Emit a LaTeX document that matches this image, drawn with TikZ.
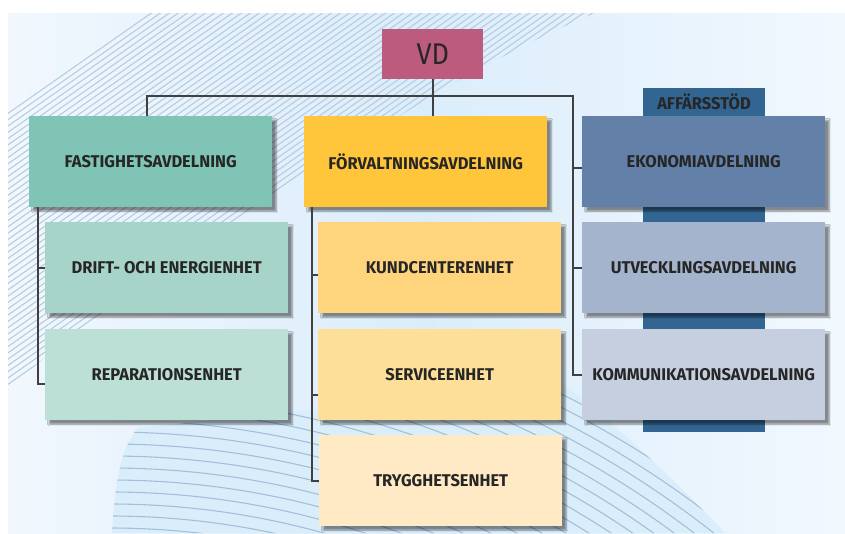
\documentclass[tikz,border=0pt]{standalone}
\usepackage{fontspec}
\newfontfamily\lblfont{Fira Sans}[FakeStretch=0.97]
\newfontfamily\vdfont{Fira Sans}[FakeStretch=0.9]
\usetikzlibrary{shadows.blur}
\definecolor{vdc}{HTML}{BD5B7E}
\definecolor{fastc}{HTML}{7FC4B4}
\definecolor{driftc}{HTML}{A6D4C8}
\definecolor{repc}{HTML}{BCDFD6}
\definecolor{forvc}{HTML}{FFC53B}
\definecolor{kundc}{HTML}{FED47C}
\definecolor{servc}{HTML}{FEDF99}
\definecolor{trygc}{HTML}{FFEAC5}
\definecolor{ekoc}{HTML}{6381A8}
\definecolor{utvc}{HTML}{A4B4CD}
\definecolor{kommc}{HTML}{C6CFDF}
\definecolor{affc}{HTML}{336592}
\definecolor{txt}{HTML}{262626}
\definecolor{linec}{HTML}{404040}
\definecolor{bgmid}{HTML}{DBEDFB}
\definecolor{bgleft}{HTML}{F1F7FD}
\definecolor{bgright}{HTML}{F2F8FE}
\definecolor{hatch}{HTML}{B8CCE0}
\definecolor{swoosh}{HTML}{A3BFD9}
\definecolor{swooshbg}{HTML}{DAEDFB}
\begin{document}
\begin{tikzpicture}[x=1pt,y=-1pt,
  box/.style={rectangle, inner sep=0pt, minimum width=243pt, minimum height=91pt,
    anchor=north west, text=txt, font=\lblfont\bfseries\fontsize{17}{20}\selectfont,
    blur shadow={shadow xshift=4pt, shadow yshift=-4pt, shadow blur steps=6, shadow opacity=45}},
  link/.style={draw=linec, line width=1.6pt},
  hatchline/.style={draw=hatch, line width=1.1pt},
  arcline/.style={draw=swoosh, line width=1.1pt},
]
\useasboundingbox (0,0) rectangle (845,533);

% background panel
\shade[left color=bgleft, right color=bgright, middle color=bgmid] (8,13) rectangle (845,533);

% diagonal hatching, upper left
\begin{scope}
  \clip (8,13) -- (595,13) .. controls (480,60) and (360,140) .. (220,230)
        .. controls (130,290) and (50,350) .. (8,390) -- cycle;
  \foreach \i in {-70,...,70}
    \draw[hatchline] (\i*9,560) -- ++(800,-560);
\end{scope}

% curved lines, lower swoosh
\begin{scope}
  \clip (112,533) .. controls (115,480) and (122,445) .. (138,428)
        .. controls (300,410) and (480,395) .. (560,382)
        .. controls (610,420) and (665,470) .. (725,533) -- cycle;
  \fill[swooshbg] (100,370) rectangle (730,533);
  \foreach \r in {760,772,...,1100}
    \draw[arcline] (110,1300) circle[radius=\r];
\end{scope}

% business support band
\node[fill=affc, minimum width=122pt, minimum height=344pt, inner sep=0pt,
      anchor=north west] (aff) at (643,88) {};
\node[text=txt, font=\lblfont\bfseries\fontsize{17}{20}\selectfont] (afftxt) at (704,102) {AFFÄRSSTÖD};

% top
\node[fill=vdc, minimum width=101pt, minimum height=50pt, inner sep=0pt, anchor=north west,
      text=txt, font=\vdfont\fontsize{30}{32}\selectfont] (vd) at (382,29) {VD};

% departments and units
\node[box, fill=fastc] (fast)  at (29,116)  {FASTIGHETSAVDELNING};
\node[box, fill=driftc] (drift) at (45,222) {DRIFT- OCH ENERGIENHET};
\node[box, fill=repc] (rep)    at (45,329)  {REPARATIONSENHET};

\node[box, fill=forvc] (forv)  at (304,116) {FÖRVALTNINGSAVDELNING};
\node[box, fill=kundc] (kund)  at (318,222) {KUNDCENTERENHET};
\node[box, fill=servc] (serv)  at (318,329) {SERVICEENHET};
\node[box, fill=trygc] (tryg)  at (319,435) {TRYGGHETSENHET};

\node[box, fill=ekoc] (eko)    at (582,116) {EKONOMIAVDELNING};
\node[box, fill=utvc] (utv)    at (582,222) {UTVECKLINGSAVDELNING};
\node[box, fill=kommc] (komm)  at (582,329) {KOMMUNIKATIONSAVDELNING};

% trunk positions
\coordinate (busL) at (147,96);
\coordinate (busR) at (573,96);
\coordinate (fx) at (38,0);
\coordinate (mx) at (312,0);
\path ([yshift=-6.5pt]eko.west) coordinate (ekot)
      ([yshift=-9.5pt]rep.west) coordinate (rept)
      ([yshift=-7.5pt]kund.west) coordinate (kundt)
      ([yshift=-20pt]serv.west) coordinate (servt);

% connectors
\draw[link] (vd.south) -- (vd.south |- forv.north);
\draw[link] (busL |- fast.north) -- (busL) -- (busR) |- (komm.west);
\draw[link] (ekot) -- (ekot -| busR);
\draw[link] (utv.west) -- (utv.west -| busR);
\draw[link] (fx |- fast.south) |- (rept);
\draw[link] (drift.west) -- (drift.west -| fx);
\draw[link] (mx |- forv.south) |- (tryg.west);
\draw[link] (kundt) -- (kundt -| mx);
\draw[link] (servt) -- (servt -| mx);
\end{tikzpicture}
\end{document}
